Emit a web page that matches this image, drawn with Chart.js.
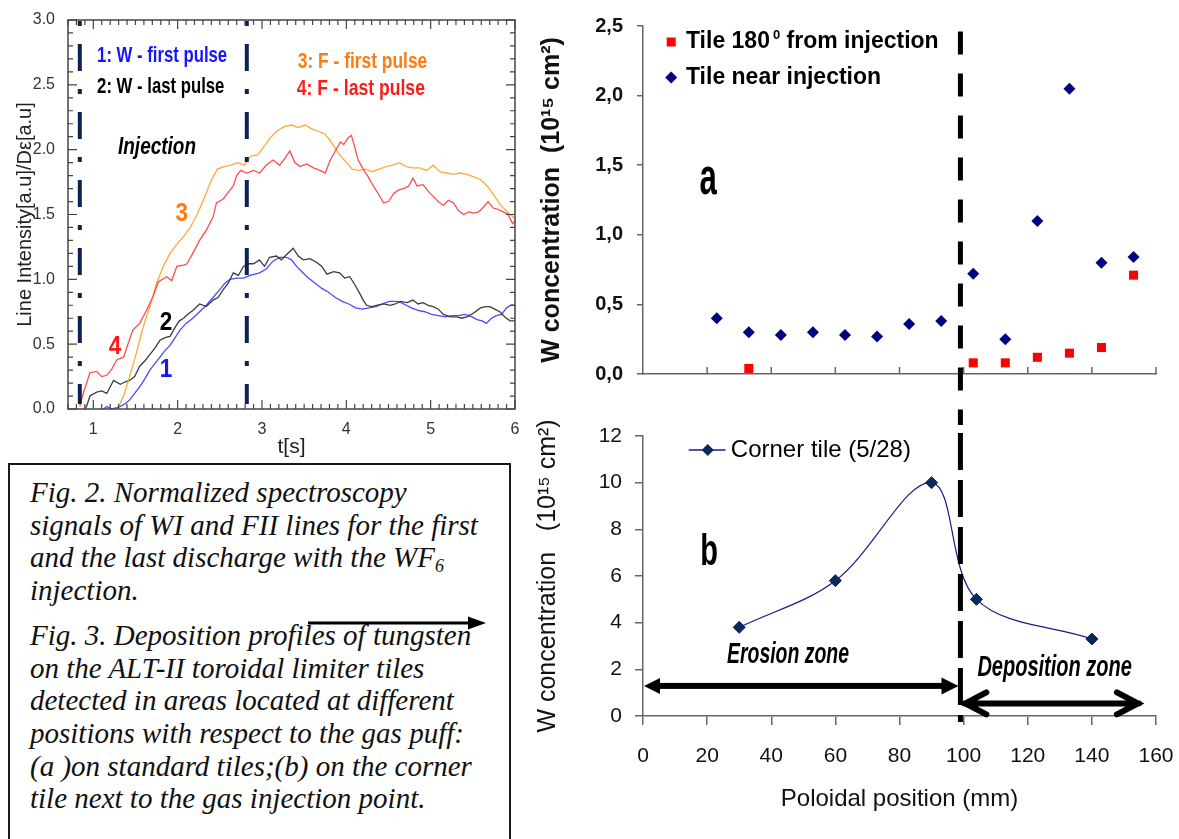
<!DOCTYPE html>
<html lang="en">
<head>
<meta charset="UTF-8">
<title>WF6 injection - spectroscopy and tungsten deposition profiles</title>
<script src="https://cdn.jsdelivr.net/npm/chart.js"></script>
<style>
  html, body { margin: 0; padding: 0; background: #fff; }
  body { width: 1179px; height: 839px; position: relative; overflow: hidden; }
  canvas { position: absolute; }
  #spec { left: 0; top: 0; }
  #tilesA { left: 530px; top: 0; }
  #tilesB { left: 530px; top: 400px; }
  .caption {
    position: absolute; left: 8px; top: 463px; width: 503px; height: 400px;
    box-sizing: border-box; border: 2px solid #1a1a1a; padding: 11px 0 0 20px;
    font-family: "Liberation Serif", "Times New Roman", serif; font-style: italic;
    font-size: 29px; line-height: 32.7px; color: #111;
  }
  .caption p { margin: 0; white-space: nowrap; }
  .caption p + p { margin-top: 12px; }
  .caption sub { font-size: 18px; vertical-align: -5px; line-height: 0; }
  #capArrow { position: absolute; left: 300px; top: 610px; }
</style>
</head>
<body>
<canvas id="spec" width="525" height="460"></canvas>
<canvas id="tilesA" width="649" height="430"></canvas>
<canvas id="tilesB" width="649" height="439"></canvas>

<div class="caption">
  <p>Fig. 2. Normalized spectroscopy<br>signals of WI and FII lines for the first<br>and the last discharge with the WF<sub>6</sub><br>injection.</p>
  <p>Fig. 3. Deposition profiles of tungsten<br>on the ALT-II toroidal limiter tiles<br>detected in areas located at different<br>positions with respect to the gas puff:<br>(a )on standard tiles;(b) on the corner<br>tile next to the gas injection point.</p>
</div>
<svg id="capArrow" width="195" height="26">
  <line x1="8" y1="13" x2="172" y2="13" stroke="#000" stroke-width="3"/>
  <polygon points="168,6.5 186,13 168,19.5" fill="#000"/>
</svg>

<script>
// ---- Fig. 2: normalized line intensity vs time (s) ----
// curve 1: W - first pulse
const wFirstT = [1.12,1.16,1.22,1.28,1.32,1.38,1.43,1.49,1.55,1.61,1.67,1.73,1.79,1.85,1.91,1.97,2.03,2.10,2.18,2.26,2.34,2.42,2.50,2.56,2.62,2.70,2.78,2.86,2.97,3.05,3.13,3.21,3.29,3.35,3.41,3.47,3.55,3.63,3.71,3.79,3.87,3.95,4.03,4.11,4.19,4.27,4.35,4.43,4.51,4.59,4.65,4.71,4.77,4.85,4.93,5.01,5.09,5.17,5.25,5.33,5.41,5.49,5.55,5.61,5.66,5.72,5.78,5.84,5.90,5.95,6.00];
const wFirstY = [0.00,0.02,0.00,0.01,0.02,0.04,0.07,0.12,0.17,0.23,0.30,0.35,0.40,0.45,0.49,0.55,0.61,0.66,0.70,0.75,0.80,0.86,0.92,0.97,1.00,1.01,1.01,1.03,1.05,1.08,1.14,1.17,1.17,1.15,1.10,1.06,1.01,0.97,0.93,0.90,0.86,0.83,0.81,0.78,0.77,0.78,0.79,0.81,0.83,0.83,0.82,0.80,0.78,0.76,0.75,0.73,0.72,0.71,0.72,0.72,0.73,0.71,0.69,0.68,0.66,0.70,0.72,0.73,0.78,0.80,0.80];
// curve 2: W - last pulse
const wLastT = [0.90,0.92,0.96,1.04,1.10,1.16,1.24,1.32,1.38,1.43,1.49,1.55,1.61,1.67,1.73,1.79,1.85,1.91,1.97,2.02,2.07,2.12,2.18,2.26,2.34,2.42,2.48,2.54,2.60,2.66,2.72,2.78,2.84,2.90,2.97,3.03,3.09,3.17,3.23,3.29,3.37,3.43,3.49,3.57,3.65,3.71,3.77,3.85,3.92,3.98,4.04,4.10,4.16,4.20,4.24,4.30,4.36,4.44,4.52,4.58,4.64,4.72,4.79,4.85,4.91,4.97,5.03,5.09,5.15,5.23,5.31,5.37,5.43,5.51,5.59,5.65,5.70,5.76,5.82,5.88,5.94,6.00];
const wLastY = [0.00,0.02,0.10,0.13,0.14,0.12,0.22,0.19,0.21,0.22,0.25,0.33,0.37,0.42,0.47,0.53,0.55,0.56,0.63,0.68,0.70,0.73,0.76,0.81,0.79,0.84,0.86,0.92,0.97,1.05,1.03,1.10,1.12,1.12,1.15,1.10,1.17,1.18,1.15,1.19,1.24,1.18,1.15,1.16,1.13,1.10,1.04,1.06,1.05,1.01,1.02,0.96,0.89,0.84,0.80,0.79,0.80,0.81,0.80,0.81,0.83,0.82,0.84,0.81,0.82,0.80,0.79,0.77,0.73,0.71,0.71,0.70,0.71,0.74,0.78,0.79,0.79,0.77,0.75,0.71,0.68,0.68];
// curve 3: F - first pulse
const fFirstT = [1.30,1.36,1.43,1.51,1.59,1.67,1.75,1.83,1.91,1.99,2.07,2.15,2.23,2.31,2.39,2.47,2.55,2.63,2.71,2.79,2.87,2.95,3.03,3.11,3.19,3.27,3.35,3.43,3.51,3.59,3.67,3.75,3.83,3.91,3.99,4.07,4.15,4.23,4.31,4.39,4.47,4.55,4.63,4.71,4.79,4.87,4.95,5.03,5.11,5.19,5.27,5.35,5.43,5.51,5.59,5.67,5.75,5.83,5.91,6.00];
const fFirstY = [0.02,0.10,0.25,0.43,0.63,0.79,0.97,1.10,1.20,1.27,1.33,1.40,1.50,1.62,1.75,1.85,1.87,1.88,1.90,1.88,1.95,1.96,2.03,2.10,2.15,2.18,2.19,2.17,2.19,2.16,2.14,2.12,2.05,1.97,1.91,1.85,1.84,1.85,1.83,1.85,1.87,1.88,1.90,1.87,1.86,1.86,1.84,1.88,1.83,1.82,1.81,1.82,1.81,1.79,1.77,1.72,1.65,1.57,1.52,1.47];
// curve 4: F - last pulse
const fLastT = [0.84,0.88,0.96,1.04,1.10,1.16,1.22,1.28,1.36,1.40,1.47,1.55,1.63,1.71,1.77,1.87,1.93,1.99,2.07,2.11,2.18,2.26,2.34,2.42,2.46,2.54,2.60,2.66,2.70,2.75,2.82,2.90,2.97,3.05,3.13,3.21,3.29,3.33,3.39,3.45,3.53,3.61,3.69,3.75,3.81,3.87,3.93,3.97,4.02,4.06,4.10,4.14,4.20,4.26,4.32,4.38,4.44,4.50,4.56,4.62,4.68,4.74,4.79,4.84,4.91,4.97,5.03,5.09,5.15,5.21,5.27,5.33,5.39,5.45,5.51,5.57,5.63,5.68,5.74,5.80,5.86,5.92,5.97,6.00];
const fLastY = [0.02,0.12,0.28,0.29,0.25,0.26,0.31,0.38,0.40,0.48,0.61,0.66,0.76,0.87,0.98,1.02,0.99,1.10,1.11,1.12,1.20,1.30,1.38,1.48,1.59,1.62,1.67,1.72,1.80,1.84,1.82,1.84,1.82,1.88,1.92,1.88,1.95,1.99,1.90,1.87,1.89,1.86,1.84,1.82,1.92,1.99,2.06,2.04,2.09,2.11,2.02,1.92,1.85,1.79,1.72,1.66,1.59,1.60,1.66,1.69,1.70,1.72,1.78,1.72,1.73,1.68,1.64,1.60,1.57,1.61,1.59,1.53,1.50,1.52,1.51,1.52,1.56,1.60,1.55,1.54,1.52,1.50,1.43,1.45];
const injectionT = [0.84, 2.82];
const specTicksX = [1, 2, 3, 4, 5, 6];

// ---- Fig. 3a: W concentration on standard tiles (1e15 cm^-2) vs poloidal position (mm) ----
const tile180X = [33, 103, 113, 123, 133, 143, 153];
const tile180Y = [0.04, 0.08, 0.08, 0.12, 0.15, 0.19, 0.71];
const tileNearX = [23, 33, 43, 53, 63, 73, 83, 93, 103, 113, 123, 133, 143, 153];
const tileNearY = [0.40, 0.30, 0.28, 0.30, 0.28, 0.27, 0.36, 0.38, 0.72, 0.25, 1.10, 2.05, 0.80, 0.84];

// ---- Fig. 3b: corner tile ----
const cornerX = [30, 60, 90, 104, 140];
const cornerY = [3.8, 5.8, 10.0, 5.0, 3.3];
const zoneBoundary = 99;

const SANS = '"Liberation Sans", Arial, Helvetica, sans-serif';

const pts = (xs, ys) => xs.map((x, i) => ({ x: x, y: ys[i] }));

// condensed text: no narrow face installed, so squeeze horizontally
function squeezeText(ctx, text, x, y, font, sx, align) {
  ctx.save();
  ctx.font = font;
  const w = ctx.measureText(text).width * sx;
  const left = align === 'center' ? x - w / 2 : x;
  ctx.translate(left, y);
  ctx.scale(sx, 1);
  ctx.textAlign = 'left';
  ctx.textBaseline = 'middle';
  ctx.fillText(text, 0, 0);
  ctx.restore();
}

// text notes on the spectroscopy panel (data coordinates)
const specNotes = [
  { text: '1: W - first pulse', t: 1.045, v: 2.72, color: '#1414ff', font: 'bold 22px ' + SANS, sx: 0.76, align: 'left' },
  { text: '2: W - last pulse', t: 1.045, v: 2.48, color: '#000', font: 'bold 22px ' + SANS, sx: 0.76, align: 'left' },
  { text: '3: F - first pulse', t: 3.425, v: 2.68, color: '#ff7a10', font: 'bold 22px ' + SANS, sx: 0.79, align: 'left' },
  { text: '4: F - last pulse', t: 3.413, v: 2.47, color: '#ff1a1a', font: 'bold 22px ' + SANS, sx: 0.80, align: 'left' },
  { text: 'Injection', t: 1.293, v: 2.02, color: '#000', font: 'italic bold 24px ' + SANS, sx: 0.79, align: 'left' },
  { text: '3', t: 2.05, v: 1.50, color: '#ff7a10', font: 'bold 25px ' + SANS, sx: 0.9, align: 'center' },
  { text: '4', t: 1.257, v: 0.48, color: '#ff1a1a', font: 'bold 25px ' + SANS, sx: 0.9, align: 'center' },
  { text: '2', t: 1.861, v: 0.665, color: '#000', font: 'bold 25px ' + SANS, sx: 0.9, align: 'center' },
  { text: '1', t: 1.861, v: 0.30, color: '#1414ff', font: 'bold 25px ' + SANS, sx: 0.9, align: 'center' }
];

const specDecor = {
  id: 'specDecor',
  afterDatasetsDraw(chart) {
    const { ctx, chartArea: a, scales: { x, y } } = chart;
    ctx.save();
    // injection markers (dash-dot)
    ctx.strokeStyle = '#0c2250';
    ctx.lineWidth = 4;
    ctx.setLineDash([5, 18, 27, 18]);
    injectionT.forEach(t => {
      const px = x.getPixelForValue(t);
      ctx.beginPath();
      ctx.moveTo(px, a.top + 1);
      ctx.lineTo(px, a.bottom - 5);
      ctx.stroke();
    });
    ctx.setLineDash([]);
    // frame and inward ticks on all four sides
    ctx.strokeStyle = '#444';
    ctx.lineWidth = 1.5;
    ctx.strokeRect(a.left, a.top, a.right - a.left, a.bottom - a.top);
    ctx.lineWidth = 1.2;
    ctx.beginPath();
    for (let i = 7; i <= 60; i++) {
      const px = x.getPixelForValue(i / 10);
      const len = i % 10 === 0 ? 9 : 5;
      ctx.moveTo(px, a.bottom); ctx.lineTo(px, a.bottom - len);
      ctx.moveTo(px, a.top); ctx.lineTo(px, a.top + len);
    }
    for (let i = 0; i <= 30; i++) {
      const py = y.getPixelForValue(i / 10);
      const len = i % 5 === 0 ? 9 : 5;
      ctx.moveTo(a.left, py); ctx.lineTo(a.left + len, py);
      ctx.moveTo(a.right, py); ctx.lineTo(a.right - len, py);
    }
    ctx.stroke();
    ctx.restore();
  },
  afterDraw(chart) {
    const { ctx, scales: { x, y } } = chart;
    specNotes.forEach(n => {
      ctx.fillStyle = n.color;
      squeezeText(ctx, n.text, x.getPixelForValue(n.t), y.getPixelForValue(n.v), n.font, n.sx, n.align);
    });
  }
};

new Chart(document.getElementById('spec'), {
  type: 'line',
  data: {
    datasets: [
      { label: '4: F - last pulse', data: pts(fLastT, fLastY), borderColor: '#ff4c4c' },
      { label: '3: F - first pulse', data: pts(fFirstT, fFirstY), borderColor: '#ffa938' },
      { label: '2: W - last pulse', data: pts(wLastT, wLastY), borderColor: '#3c3c3c' },
      { label: '1: W - first pulse', data: pts(wFirstT, wFirstY), borderColor: '#4a4aff' }
    ]
  },
  options: {
    responsive: false,
    animation: false,
    layout: { padding: { top: 20, right: 10, left: 0, bottom: 0 } },
    elements: { point: { radius: 0 }, line: { borderWidth: 1.3, tension: 0 } },
    plugins: { legend: { display: false }, tooltip: { enabled: false } },
    scales: {
      x: {
        type: 'linear', min: 0.7, max: 6,
        afterFit: s => { s.height = 51; },
        afterBuildTicks: s => { s.ticks = specTicksX.map(v => ({ value: v })); },
        grid: { display: false }, border: { display: false },
        ticks: { padding: 3, maxRotation: 0, color: '#333', font: { family: SANS, size: 16 } },
        title: { display: true, text: 't[s]', color: '#222', padding: 0, font: { family: SANS, size: 21 } }
      },
      y: {
        min: 0, max: 3,
        afterFit: s => { s.width = 68; },
        grid: { display: false }, border: { display: false },
        ticks: { stepSize: 0.5, padding: 5, color: '#333', font: { family: SANS, size: 16 }, callback: v => v.toFixed(1) },
        title: { display: true, text: 'Line Intensity[a.u]/D\u03b5[a.u]', color: '#222', padding: { top: 13, bottom: 0 }, font: { family: SANS, size: 20 } }
      }
    }
  },
  plugins: [specDecor]
});

// ---- Fig. 3a ----
const tilesADecor = {
  id: 'tilesADecor',
  afterDraw(chart) {
    const { ctx, chartArea: a, scales: { x, y } } = chart;
    ctx.save();
    // inward ticks on the position axis
    ctx.strokeStyle = '#666';
    ctx.lineWidth = 1.5;
    ctx.beginPath();
    for (let v = 20; v <= 160; v += 20) {
      const px = x.getPixelForValue(v);
      ctx.moveTo(px, a.bottom); ctx.lineTo(px, a.bottom - 7);
    }
    ctx.stroke();
    // erosion / deposition boundary
    const bx = x.getPixelForValue(zoneBoundary);
    ctx.strokeStyle = '#000';
    ctx.lineWidth = 5;
    ctx.setLineDash([23, 19]);
    ctx.beginPath();
    ctx.moveTo(bx, y.getPixelForValue(2.46));
    ctx.lineTo(bx, a.bottom + 51);
    ctx.stroke();
    ctx.setLineDash([]);
    // legend
    const lx = x.getPixelForValue(8.8);
    const ly1 = y.getPixelForValue(2.385);
    const ly2 = y.getPixelForValue(2.13);
    ctx.fillStyle = '#ff0000';
    ctx.fillRect(lx - 4.5, ly1 - 4.5, 9, 9);
    ctx.fillStyle = '#000080';
    ctx.beginPath();
    ctx.moveTo(lx, ly2 - 6); ctx.lineTo(lx + 6, ly2); ctx.lineTo(lx, ly2 + 6); ctx.lineTo(lx - 6, ly2);
    ctx.closePath(); ctx.fill();
    ctx.fillStyle = '#000';
    ctx.textBaseline = 'middle';
    ctx.textAlign = 'left';
    ctx.font = 'bold 23px ' + SANS;
    const tx = x.getPixelForValue(13.4);
    ctx.fillText('Tile 180', tx, ly1);
    let w = ctx.measureText('Tile 180').width;
    ctx.font = 'bold 13px ' + SANS;
    ctx.fillText('0', tx + w + 3, ly1 - 7);
    w += 3 + ctx.measureText('0').width;
    ctx.font = 'bold 23px ' + SANS;
    ctx.fillText(' from injection', tx + w, ly1);
    ctx.fillText('Tile near injection', tx, ly2);
    ctx.restore();
    // panel letter
    ctx.fillStyle = '#000';
    squeezeText(ctx, 'a', x.getPixelForValue(20.3), y.getPixelForValue(1.394), 'bold 52px ' + SANS, 0.6, 'center');
  }
};

new Chart(document.getElementById('tilesA'), {
  type: 'scatter',
  data: {
    datasets: [
      { label: 'Tile 180\u2070 from injection', data: pts(tile180X, tile180Y), pointStyle: 'rect', pointRadius: 6.4, backgroundColor: '#ff0000', borderWidth: 0 },
      { label: 'Tile near injection', data: pts(tileNearX, tileNearY), pointStyle: 'rectRot', pointRadius: 6, backgroundColor: '#000080', borderWidth: 0 }
    ]
  },
  options: {
    responsive: false,
    animation: false,
    layout: { padding: { top: 26, right: 23, left: 0, bottom: 0 } },
    plugins: { legend: { display: false }, tooltip: { enabled: false } },
    scales: {
      x: {
        type: 'linear', min: 0, max: 160,
        afterFit: s => { s.height = 56; s.paddingLeft = 0; s.paddingRight = 0; },
        ticks: { display: false, stepSize: 20 },
        grid: { display: false },
        border: { color: '#666', width: 1.5 }
      },
      y: {
        min: 0, max: 2.5,
        afterFit: s => { s.width = 113; },
        ticks: { stepSize: 0.5, padding: 14, color: '#111', font: { family: SANS, size: 20, weight: 'bold' }, callback: v => v.toFixed(1).replace('.', ',') },
        grid: { drawOnChartArea: false, drawTicks: true, tickLength: 6, color: '#666', lineWidth: 1.5 },
        border: { color: '#666', width: 1.5 },
        title: { display: true, text: 'W concentration  (10\u00b9\u2075 cm\u00b2)', color: '#111', padding: { top: 7, bottom: 0 }, font: { family: SANS, size: 25, weight: 'bold' } }
      }
    }
  },
  plugins: [tilesADecor]
});

// ---- Fig. 3b ----
const tilesBDecor = {
  id: 'tilesBDecor',
  afterDraw(chart) {
    const { ctx, chartArea: a, scales: { x, y } } = chart;
    ctx.save();
    // erosion / deposition boundary
    const bx = x.getPixelForValue(zoneBoundary);
    ctx.strokeStyle = '#000';
    ctx.lineWidth = 5;
    ctx.setLineDash([37, 10]);
    ctx.beginPath();
    ctx.moveTo(bx, 33);
    ctx.lineTo(bx, a.bottom + 6);
    ctx.stroke();
    ctx.setLineDash([]);

    // erosion zone arrow (filled heads)
    const ey = y.getPixelForValue(1.29);
    const ex0 = x.getPixelForValue(0), ex1 = x.getPixelForValue(98.4);
    ctx.fillStyle = '#000';
    ctx.fillRect(ex0 + 12, ey - 3, ex1 - ex0 - 24, 6);
    ctx.beginPath();
    ctx.moveTo(ex0 + 1, ey); ctx.lineTo(ex0 + 17, ey - 8); ctx.lineTo(ex0 + 17, ey + 8); ctx.closePath();
    ctx.moveTo(ex1, ey); ctx.lineTo(ex1 - 17, ey - 8.5); ctx.lineTo(ex1 - 17, ey + 8.5); ctx.closePath();
    ctx.fill();

    // deposition zone arrow (open heads)
    const dy = y.getPixelForValue(0.54);
    const dx0 = x.getPixelForValue(99.6), dx1 = x.getPixelForValue(155.3);
    ctx.strokeStyle = '#000';
    ctx.lineWidth = 6;
    ctx.lineCap = 'round';
    ctx.beginPath();
    ctx.moveTo(dx0 + 2, dy); ctx.lineTo(dx1 - 2, dy);
    ctx.moveTo(dx0 + 24, dy - 11); ctx.lineTo(dx0 + 3, dy); ctx.lineTo(dx0 + 24, dy + 11);
    ctx.moveTo(dx1 - 24, dy - 11); ctx.lineTo(dx1 - 3, dy); ctx.lineTo(dx1 - 24, dy + 11);
    ctx.stroke();

    // legend
    const ly = y.getPixelForValue(11.4);
    const l0 = x.getPixelForValue(14.4), l1 = x.getPixelForValue(25.6), lm = x.getPixelForValue(20.2);
    ctx.strokeStyle = '#1a1a8c';
    ctx.lineWidth = 1.3;
    ctx.beginPath(); ctx.moveTo(l0, ly); ctx.lineTo(l1, ly); ctx.stroke();
    ctx.fillStyle = '#0a2a5e';
    ctx.beginPath();
    ctx.moveTo(lm, ly - 6); ctx.lineTo(lm + 6, ly); ctx.lineTo(lm, ly + 6); ctx.lineTo(lm - 6, ly);
    ctx.closePath(); ctx.fill();
    ctx.fillStyle = '#000';
    ctx.textBaseline = 'middle';
    ctx.textAlign = 'left';
    ctx.font = '24px ' + SANS;
    ctx.fillText('Corner tile (5/28)', x.getPixelForValue(27.4), ly);
    ctx.restore();

    // zone labels and panel letter
    ctx.fillStyle = '#000';
    squeezeText(ctx, 'Erosion zone', x.getPixelForValue(26.2), y.getPixelForValue(2.61), 'italic bold 29px ' + SANS, 0.67, 'left');
    squeezeText(ctx, 'Deposition zone', x.getPixelForValue(104.3), y.getPixelForValue(2.06), 'italic bold 29px ' + SANS, 0.69, 'left');
    squeezeText(ctx, 'b', x.getPixelForValue(20.6), y.getPixelForValue(7.0), 'bold 44px ' + SANS, 0.66, 'center');
  }
};

new Chart(document.getElementById('tilesB'), {
  type: 'line',
  data: {
    datasets: [{
      label: 'Corner tile (5/28)',
      data: pts(cornerX, cornerY),
      borderColor: '#1a1a8c', borderWidth: 1.2, tension: 0.35,
      pointStyle: 'rectRot', pointRadius: 6, pointBackgroundColor: '#0a2a5e', pointBorderColor: '#0a2050', pointBorderWidth: 1
    }]
  },
  options: {
    responsive: false,
    animation: false,
    layout: { padding: { top: 36, right: 23, left: 0, bottom: 0 } },
    plugins: { legend: { display: false }, tooltip: { enabled: false } },
    scales: {
      x: {
        type: 'linear', min: 0, max: 160,
        afterFit: s => { s.height = 123; s.paddingLeft = 0; s.paddingRight = 0; },
        ticks: { stepSize: 20, padding: 19, maxRotation: 0, color: '#111', font: { family: SANS, size: 21 } },
        grid: { drawOnChartArea: false, drawTicks: true, tickLength: 9, color: '#666', lineWidth: 1.5 },
        border: { color: '#666', width: 1.5 },
        title: { display: true, text: 'Poloidal position (mm)', color: '#111', padding: { top: 0, bottom: 25 }, font: { family: SANS, size: 24 } }
      },
      y: {
        min: 0, max: 12,
        afterFit: s => { s.width = 113; },
        ticks: { stepSize: 2, padding: 13, color: '#111', font: { family: SANS, size: 21 } },
        grid: { drawOnChartArea: false, drawTicks: true, tickLength: 8, color: '#666', lineWidth: 1.5 },
        border: { color: '#666', width: 1.5 },
        title: { display: true, text: 'W concentration   (10\u00b9\u2075 cm\u00b2)', color: '#111', padding: { top: 3, bottom: 0 }, font: { family: SANS, size: 25 } }
      }
    }
  },
  plugins: [tilesBDecor]
});
</script>
</body>
</html>
